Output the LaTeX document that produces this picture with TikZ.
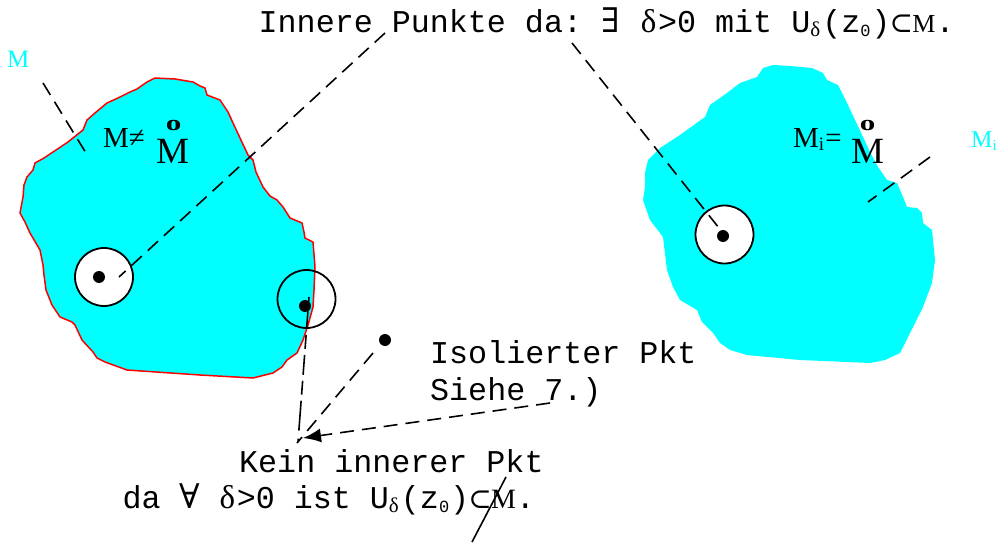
\documentclass[tikz,border=0pt]{standalone}
\usepackage{fontspec}
\setmainfont{Liberation Serif}
\newfontfamily\monof{Liberation Mono}
\newfontfamily\symbf{DejaVu Serif}
\usetikzlibrary{arrows.meta}
\definecolor{aqua}{RGB}{0,255,255}

\newcommand\fs[1]{\fontsize{#1}{#1}\selectfont}
\newcommand\cellbox[1]{\makebox[19pt]{#1}}
\newcommand\delt{{\rmfamily\fs{33}δ}}
\newcommand\subd{\raisebox{-4pt}{\makebox[12pt][l]{\rmfamily\fs{21}δ}}}
\newcommand\subz{\raisebox{-4pt}{\makebox[11pt][l]{\monof\fs{17}0}}}
\newcommand\exi{\cellbox{\symbf\fs{34}∃}}
\newcommand\fa{\cellbox{\symbf\fs{34}∀}}
\newcommand\sbs{\hspace{3pt}\makebox[16pt]{\symbf\fs{28}⊂}}
\newcommand\serifM[1]{{\rmfamily\fs{#1}M}}

\tikzset{
  blob/.style={fill=aqua},
  lead/.style={line width=1.6pt, dash pattern=on 14pt off 8pt},
  ring/.style={circle, draw, line width=1.8pt, minimum size=58pt, inner sep=0pt},
  dotn/.style={circle, fill=black, minimum size=12pt, inner sep=0pt},
  mtxt/.style={inner sep=0pt, anchor=base west, font=\monof\fs{31.7}\frenchspacing},
  stxt/.style={inner sep=0pt, anchor=base west},
  ringmark/.style={inner sep=0pt, anchor=base, font=\bfseries\fs{31}},
}

\begin{document}
\begin{tikzpicture}[x=1pt,y=-1pt]
\useasboundingbox (0,0) rectangle (997,543);

% set M with red border
\path[blob, draw=red, line width=1.5pt]
  (147,82) -- (155,78) -- (175,79) -- (193,82) -- (200,86) -- (205,88) -- (207,95)
  -- (220,100) -- (228,112) -- (233,123) -- (240,138) -- (248,155) -- (253,160)
  -- (256,172) -- (263,187) -- (270,196) -- (277,200) -- (283,207) -- (290,218)
  -- (302,223) -- (304,232) -- (305,238) -- (313,242) -- (315,267) -- (314,290)
  -- (313,307) -- (308,325) -- (303,340) -- (297,353) -- (287,360) -- (282,367)
  -- (273,373) -- (253,378) -- (200,375) -- (127,370) -- (105,362) -- (97,358)
  -- (93,352) -- (82,340) -- (75,325) -- (72,322) -- (60,317) -- (52,305)
  -- (46,290) -- (44,275) -- (43,265) -- (40,250) -- (30,233) -- (25,222)
  -- (20,213) -- (23,197) -- (24,185) -- (27,177) -- (33,170) -- (35,163)
  -- (44,158) -- (53,152) -- (68,142) -- (83,130) -- (87,120) -- (95,113)
  -- (107,103) -- (118,98) -- (130,92) -- (137,89) -- cycle;

% set M_i without border
\path[blob]
  (763,68) -- (773,65) -- (790,66) -- (812,68) -- (823,73) -- (827,80) -- (838,85)
  -- (847,103) -- (855,120) -- (863,137) -- (870,152) -- (878,167) -- (887,180)
  -- (897,183) -- (903,197) -- (907,207) -- (917,208) -- (922,213) -- (923,223)
  -- (932,230) -- (935,260) -- (932,283) -- (923,307) -- (910,333) -- (900,353)
  -- (885,360) -- (870,363) -- (800,360) -- (747,355) -- (730,350) -- (720,343)
  -- (713,333) -- (702,322) -- (697,310) -- (680,300) -- (673,287) -- (667,270)
  -- (663,237) -- (650,220) -- (643,200) -- (645,187) -- (645,173) -- (648,160)
  -- (660,148) -- (680,135) -- (705,117) -- (710,105) -- (727,93) -- (740,83)
  -- (757,77) -- cycle;

% neighbourhoods
\node[ring, fill=white] (c1) at (104,277) {};
\node[ring] (c2) at (306.5,299) {};
\node[ring, fill=white] (c3) at (724.5,234.5) {};

% points
\node[dotn] (p1) at (99,277) {};
\node[dotn] (p2) at (305,306) {};
\node[dotn] (p3) at (723,236) {};
\node[dotn] (p4) at (385,340) {};

% labels of the sets
\node[stxt, text=aqua, font=\fs{25}] (lblM) at (7,68) {M};
\node[stxt, text=aqua, font=\fs{24}] (lblMi) at (971,147)
  {M\raisebox{-3pt}{\fs{15}i}};

\node[stxt, font=\fs{29}] (neq) at (103,147) {M≠};
\node[stxt, font=\fs{37}] (intL) at (156,163) {M};
\node[ringmark] (oL) at (173.5,131) {\scalebox{1}[0.7]{o}};

\node[stxt, font=\fs{29}] (eqi) at (793,147)
  {M\raisebox{-3pt}{\fs{19}i}\hspace{1pt}=};
\node[stxt, font=\fs{37}] (intR) at (851,163) {M};
\node[ringmark] (oR) at (867.5,131) {\scalebox{1}[0.7]{o}};

% texts
\node[mtxt] (inner) at (258.5,33)
  {Innere Punkte da: \exi{} \cellbox{\delt}>0 mit U\subd(z\subz)\sbs\hspace{3pt}\serifM{26}.};
\node[mtxt] (iso1) at (430,363) {Isolierter Pkt};
\node[mtxt] (iso2) at (430,400) {Siehe 7.)};
\node[mtxt] (kein) at (239,472) {Kein innerer Pkt};
\node[mtxt] (daall) at (122.5,508)
  {da \fa{} \cellbox{\delt}>0 ist U\subd(z\subz)\sbs\hspace{3pt}\serifM{28}.};

% leader lines
\coordinate (mFoot) at (43,83);   \coordinate (mTip) at (86,153);
\coordinate (miFoot) at (930,157); \coordinate (miTip) at (868,202);
\coordinate (innFoot) at (385,33); \coordinate (c1Tip) at (119,277);
\coordinate (daFoot) at (572,43);  \coordinate (c3Tip) at (719,228);
\coordinate (p2Top) at (309,297);  \coordinate (meet) at (298,442);
\coordinate (p4Tail) at (373,353); \coordinate (meet2) at (297,443);
\coordinate (sieheFoot) at (550,403); \coordinate (arrTip) at (303,438);
\coordinate (slashLo) at (472,542); \coordinate (slashHi) at (506,477);

\draw[lead] (mFoot) -- (mTip);
\draw[lead] (miFoot) -- (miTip);
\draw[lead] (innFoot) -- (c1Tip);
\draw[lead] (daFoot) -- (c3Tip);
\draw[lead, dash pattern=on 30pt off 8pt on 14pt off 6pt on 20pt off 6pt on 14pt off 6pt]
  (p2Top) -- (meet);
\draw[lead] (p4Tail) -- (meet2);
\draw[lead, -{Latex[length=18pt,width=14pt]}] (sieheFoot) -- (arrTip);
\draw[line width=1.6pt] (slashLo) -- (slashHi);
\end{tikzpicture}
\end{document}
